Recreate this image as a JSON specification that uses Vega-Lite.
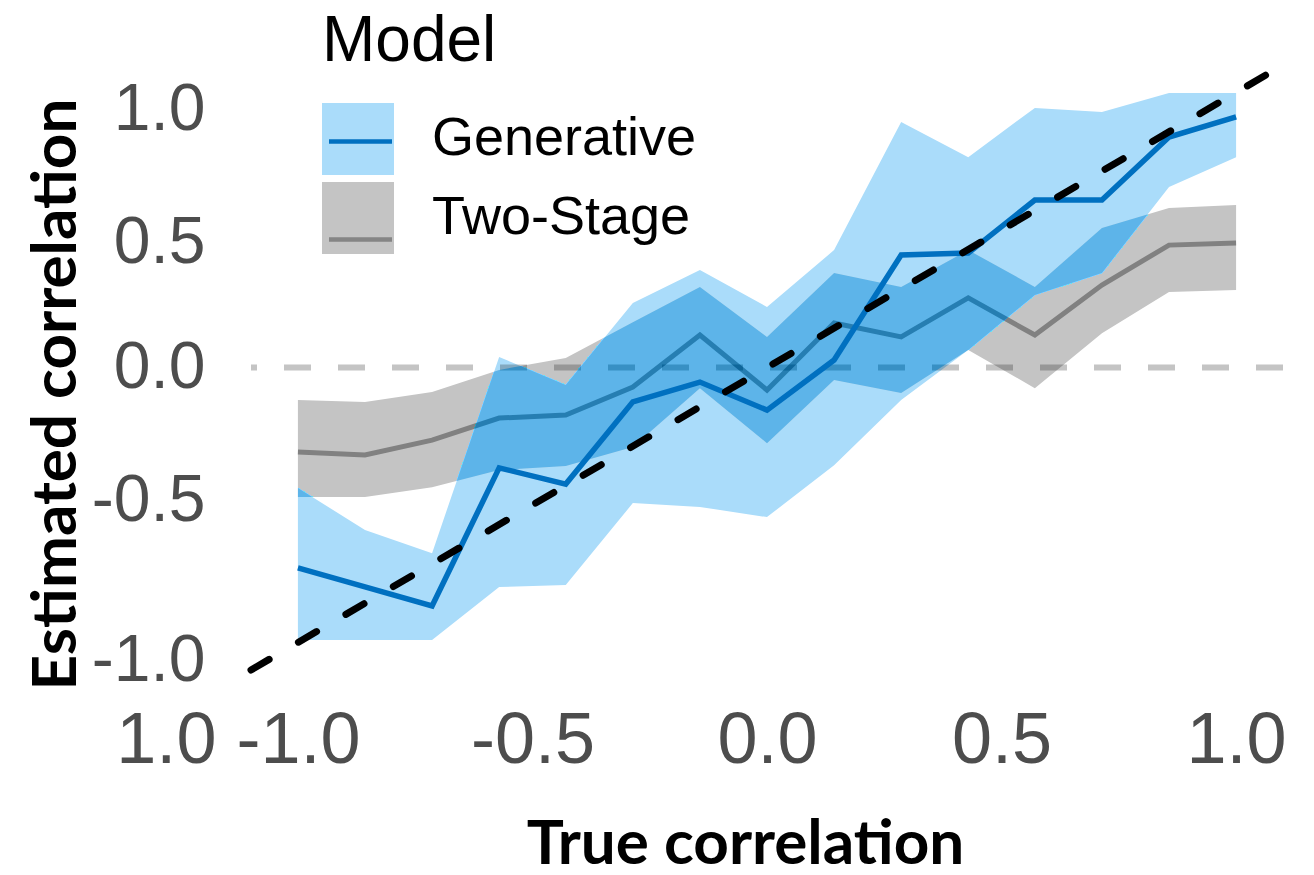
{
  "$schema": "https://vega.github.io/schema/vega-lite/v6.json",
  "width": 1032,
  "height": 605,
  "autosize": {"type": "none"},
  "padding": {"left": 251, "top": 65, "right": 31, "bottom": 205},
  "background": "white",
  "config": {
    "view": {"stroke": null},
    "axis": {"grid": false, "domain": false, "ticks": false}
  },
  "data": {
    "values": [
      {"x": -1, "model": "Generative", "est": -0.729, "lo": -0.991, "hi": -0.438},
      {"x": -0.857, "model": "Generative", "est": -0.798, "lo": -0.991, "hi": -0.591},
      {"x": -0.714, "model": "Generative", "est": -0.867, "lo": -0.991, "hi": -0.675},
      {"x": -0.571, "model": "Generative", "est": -0.365, "lo": -0.798, "hi": 0.038},
      {"x": -0.429, "model": "Generative", "est": -0.424, "lo": -0.791, "hi": -0.064},
      {"x": -0.286, "model": "Generative", "est": -0.125, "lo": -0.493, "hi": 0.235},
      {"x": -0.143, "model": "Generative", "est": -0.053, "lo": -0.507, "hi": 0.355},
      {"x": 0, "model": "Generative", "est": -0.155, "lo": -0.544, "hi": 0.22},
      {"x": 0.143, "model": "Generative", "est": 0.027, "lo": -0.355, "hi": 0.427},
      {"x": 0.286, "model": "Generative", "est": 0.409, "lo": -0.118, "hi": 0.893},
      {"x": 0.429, "model": "Generative", "est": 0.416, "lo": 0.064, "hi": 0.765},
      {"x": 0.571, "model": "Generative", "est": 0.609, "lo": 0.264, "hi": 0.944},
      {"x": 0.714, "model": "Generative", "est": 0.609, "lo": 0.344, "hi": 0.929},
      {"x": 0.857, "model": "Generative", "est": 0.838, "lo": 0.656, "hi": 0.998},
      {"x": 1, "model": "Generative", "est": 0.911, "lo": 0.765, "hi": 0.998},
      {"x": -1, "model": "Two-Stage", "est": -0.307, "lo": -0.471, "hi": -0.118},
      {"x": -0.857, "model": "Two-Stage", "est": -0.318, "lo": -0.471, "hi": -0.125},
      {"x": -0.714, "model": "Two-Stage", "est": -0.264, "lo": -0.435, "hi": -0.089},
      {"x": -0.571, "model": "Two-Stage", "est": -0.184, "lo": -0.373, "hi": -0.009},
      {"x": -0.429, "model": "Two-Stage", "est": -0.173, "lo": -0.358, "hi": 0.035},
      {"x": -0.286, "model": "Two-Stage", "est": -0.071, "lo": -0.289, "hi": 0.165},
      {"x": -0.143, "model": "Two-Stage", "est": 0.118, "lo": -0.075, "hi": 0.293},
      {"x": 0, "model": "Two-Stage", "est": -0.082, "lo": -0.275, "hi": 0.111},
      {"x": 0.143, "model": "Two-Stage", "est": 0.162, "lo": -0.045, "hi": 0.344},
      {"x": 0.286, "model": "Two-Stage", "est": 0.111, "lo": -0.093, "hi": 0.293},
      {"x": 0.429, "model": "Two-Stage", "est": 0.253, "lo": 0.064, "hi": 0.427},
      {"x": 0.571, "model": "Two-Stage", "est": 0.118, "lo": -0.075, "hi": 0.293},
      {"x": 0.714, "model": "Two-Stage", "est": 0.3, "lo": 0.125, "hi": 0.507},
      {"x": 0.857, "model": "Two-Stage", "est": 0.445, "lo": 0.275, "hi": 0.58},
      {"x": 1, "model": "Two-Stage", "est": 0.453, "lo": 0.282, "hi": 0.591}
    ]
  },
  "layer": [
    {
      "data": {"values": [{}]},
      "mark": {"type": "rule", "color": "#c4c4c4", "strokeWidth": 6, "strokeDash": [27, 27]},
      "encoding": {
        "y": {"datum": 0, "type": "quantitative", "scale": {"domain": [-1.1, 1.1], "nice": false, "zero": false}}
      }
    },
    {
      "transform": [{"filter": "datum.model == 'Generative'"}],
      "mark": {"type": "area", "blend": "multiply"},
      "encoding": {
        "x": {
          "field": "x", "type": "quantitative",
          "scale": {"domain": [-1.1, 1.1], "nice": false, "zero": false},
          "axis": {
            "title": "True correlation",
            "values": [-1, -0.5, 0, 0.5, 1],
            "labelExpr": "datum.value == -1 ? '1.0 -1.0' : datum.value == -0.5 ? '-0.5' : datum.value == 0 ? '0.0' : datum.value == 0.5 ? '0.5' : '1.0'",
            "labelOffset": {"expr": "datum.value == -1 ? -60 : 0"},
            "labelFont": "Liberation Sans", "labelFontSize": 72, "labelColor": "#4d4d4d", "labelLimit": 600,
            "labelPadding": 35, "labelOverlap": false, "labelFlush": false, "labelBound": false,
            "titleFont": "Lato", "titleFontWeight": "bold", "titleFontSize": 62, "titleColor": "black",
            "titleX": 494, "titleY": 193, "titleBaseline": "alphabetic", "titleAlign": "center"
          }
        },
        "y": {
          "field": "lo", "type": "quantitative",
          "scale": {"domain": [-1.1, 1.1], "nice": false, "zero": false},
          "axis": {
            "title": "Estimated correlation",
            "values": [-1, -0.5, 0, 0.5, 1],
            "labelExpr": "datum.value == -1 ? '-1.0' : datum.value == -0.5 ? '-0.5' : datum.value == 0 ? '0.0' : datum.value == 0.5 ? '0.5' : '1.0'",
            "labelOffset": {"expr": "datum.value == 1 ? 17 : datum.value == 0.5 ? 12 : datum.value == -0.5 ? -5 : datum.value == -1 ? 18 : 0"},
            "labelFont": "Liberation Sans", "labelFontSize": 66, "labelColor": "#4d4d4d", "labelLimit": 400,
            "labelPadding": 46, "labelOverlap": false, "labelFlush": false, "labelBound": false,
            "titleFont": "Lato", "titleFontWeight": "bold", "titleFontSize": 62, "titleColor": "black",
            "titleAngle": -90, "titleX": -176, "titleY": 329, "titleBaseline": "alphabetic", "titleAlign": "center"
          }
        },
        "y2": {"field": "hi"},
        "fill": {
          "field": "model", "type": "nominal",
          "scale": {"range": ["#aadcfa", "#c4c4c4"]},
          "legend": {
            "orient": "none", "legendX": 71, "legendY": -55, "padding": 0,
            "title": "Model", "titleFont": "Liberation Sans", "titleFontSize": 64, "titleFontWeight": "normal",
            "titleColor": "black", "titlePadding": 29, "titleLimit": 600,
            "symbolType": "square", "symbolSize": 5184, "symbolStrokeWidth": 0, "symbolOpacity": 1,
            "labelFont": "Liberation Sans", "labelFontSize": 54, "labelColor": "black", "labelOffset": 38,
            "labelLimit": 600, "rowPadding": 7
          }
        }
      }
    },
    {
      "transform": [{"filter": "datum.model == 'Two-Stage'"}],
      "mark": {"type": "area", "blend": "multiply"},
      "encoding": {
        "x": {"field": "x", "type": "quantitative", "scale": {"domain": [-1.1, 1.1], "nice": false, "zero": false}},
        "y": {"field": "lo", "type": "quantitative", "scale": {"domain": [-1.1, 1.1], "nice": false, "zero": false}},
        "y2": {"field": "hi"},
        "fill": {"field": "model", "type": "nominal"}
      }
    },
    {
      "transform": [{"filter": "datum.model == 'Two-Stage'"}],
      "mark": {"type": "line", "color": "#a8a8a8", "strokeWidth": 5, "blend": "multiply"},
      "encoding": {
        "x": {"field": "x", "type": "quantitative", "scale": {"domain": [-1.1, 1.1], "nice": false, "zero": false}},
        "y": {"field": "est", "type": "quantitative", "scale": {"domain": [-1.1, 1.1], "nice": false, "zero": false}}
      }
    },
    {
      "transform": [{"filter": "datum.model == 'Two-Stage'"}],
      "mark": {"type": "area", "color": "#3cc8c8", "blend": "saturation"},
      "encoding": {
        "x": {"field": "x", "type": "quantitative", "scale": {"domain": [-1.1, 1.1], "nice": false, "zero": false}},
        "y": {"field": "lo", "type": "quantitative", "scale": {"domain": [-1.1, 1.1], "nice": false, "zero": false}},
        "y2": {"field": "hi"}
      }
    },
    {
      "transform": [{"filter": "datum.model == 'Generative'"}],
      "mark": {"type": "line", "strokeWidth": 5.5},
      "encoding": {
        "x": {"field": "x", "type": "quantitative", "scale": {"domain": [-1.1, 1.1], "nice": false, "zero": false}},
        "y": {"field": "est", "type": "quantitative", "scale": {"domain": [-1.1, 1.1], "nice": false, "zero": false}},
        "stroke": {
          "field": "model", "type": "nominal",
          "scale": {"domain": ["Generative", "Two-Stage"], "range": ["#0070c0", "#858585"]},
          "legend": {
            "orient": "none", "legendX": 71, "legendY": 38, "padding": 0,
            "title": null,
            "symbolType": "M-1,-1M1,1M-0.875,0H0.875", "symbolSize": 5184, "symbolStrokeWidth": 4.5,
            "symbolFillColor": "transparent", "symbolOpacity": 1,
            "labelExpr": "''", "labelFontSize": 54, "labelOffset": 38, "rowPadding": 7
          }
        }
      }
    },
    {
      "data": {"values": [{}]},
      "mark": {"type": "rule", "color": "black", "strokeWidth": 7, "strokeDash": [21, 34], "strokeCap": "round"},
      "encoding": {
        "x": {"datum": -1.1, "type": "quantitative", "scale": {"domain": [-1.1, 1.1], "nice": false, "zero": false}},
        "x2": {"datum": 1.1},
        "y": {"datum": -1.1, "type": "quantitative", "scale": {"domain": [-1.1, 1.1], "nice": false, "zero": false}},
        "y2": {"datum": 1.1}
      }
    }
  ]
}
